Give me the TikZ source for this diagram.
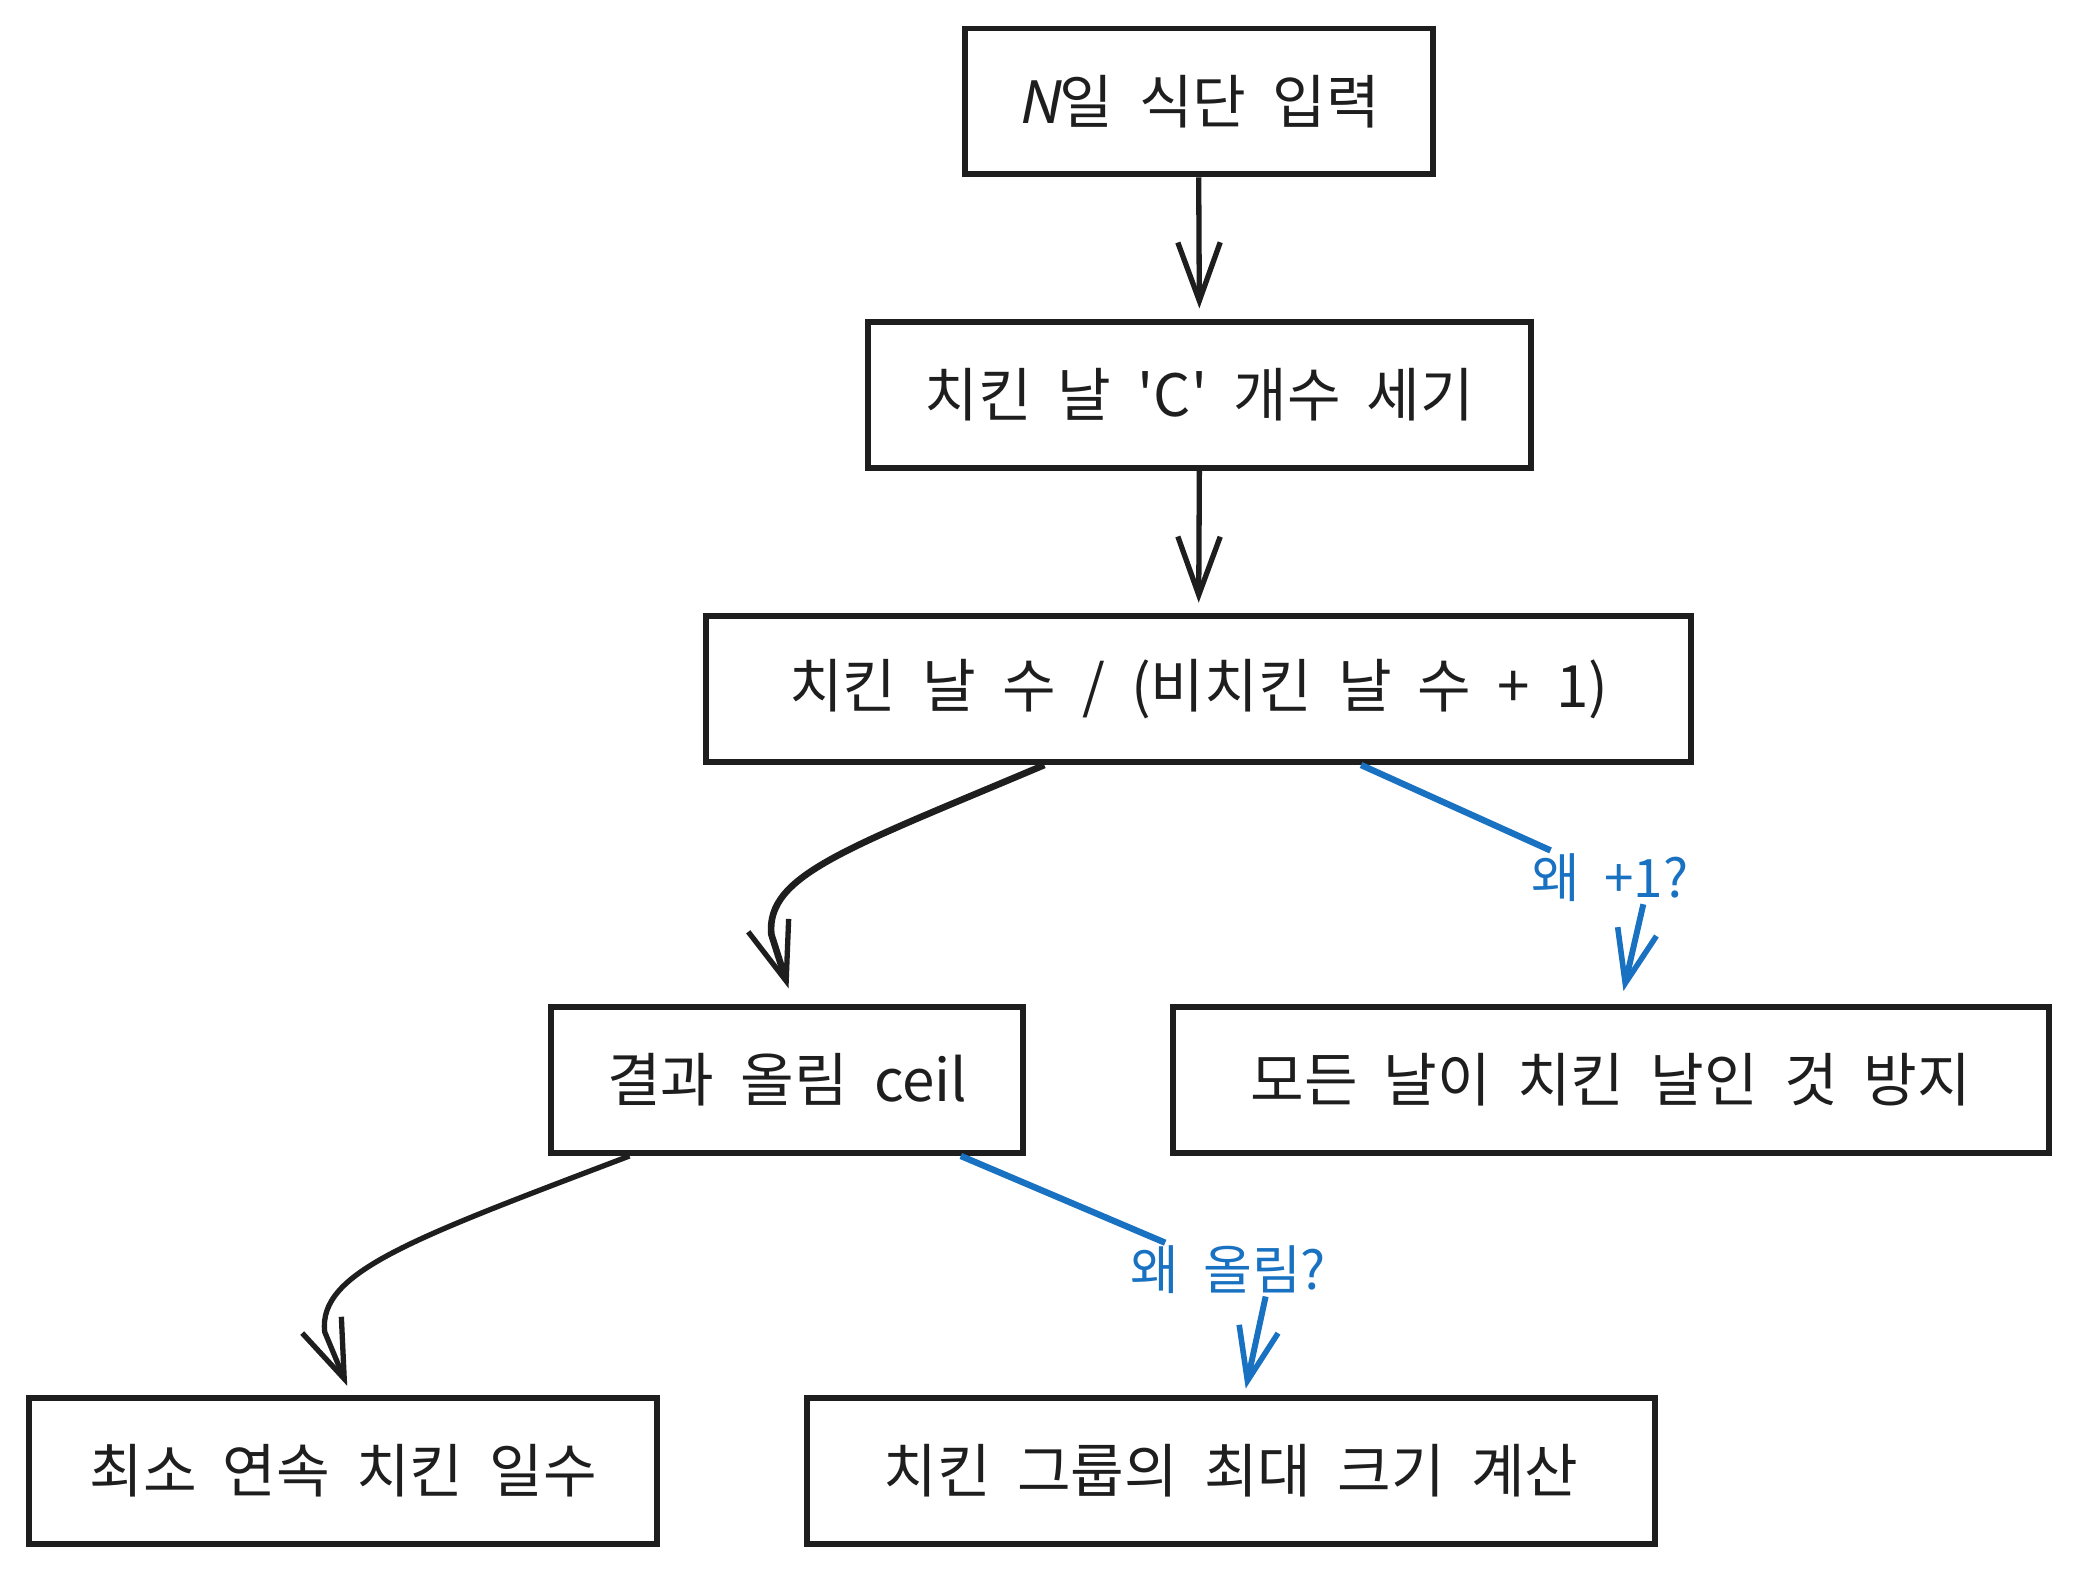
\documentclass[tikz,border=0pt]{standalone}
\usepackage{fontspec}
\setmainfont{Noto Sans CJK KR}[Ligatures=TeXOff]
\newfontfamily\slantfont{Noto Sans CJK KR}[FakeSlant=0.2,Ligatures=TeXOff]
\usetikzlibrary{arrows.meta}
\definecolor{ink}{HTML}{1E1E1E}
\definecolor{bluea}{HTML}{1971C2}
\tikzset{
  box/.style={draw=ink, line width=4.5pt, fill=white, minimum height=110pt, inner sep=0pt, font=\fontsize{44}{50}\selectfont, text=ink},
  conn/.style={draw=ink, line width=4pt, -{Straight Barb[length=44pt,width=32pt,line width=4pt]}},
  bconn/.style={draw=bluea, line width=4.8pt},
  barr/.style={draw=bluea, line width=4.5pt, -{Straight Barb[length=40pt,width=30pt,line width=4.2pt]}},
  blabel/.style={text=bluea, font=\fontsize{40}{46}\selectfont, inner sep=2pt}
}
\begin{document}
\begin{tikzpicture}[x=1pt,y=-1pt]
\useasboundingbox[fill=white] (0,0) rectangle (1568,1187);
\node[box, minimum width=353pt] (b1) at (904.5,76.5) {{\slantfont N}일\ \ 식단\ \ 입력};
\node[box, minimum width=500pt] (b2) at (905,298) {치킨\ \ 날\ \ 'C'\ \ 개수\ \ 세기};
\node[box, minimum width=743pt] (b3) at (904.5,520) {치킨\ \ 날\ \ 수\ \ /\ \ (비치킨\ \ 날\ \ 수\ \ +\ \ 1)};
\node[box, minimum width=356pt] (b4) at (594,815) {결과\ \ 올림\ \ ceil};
\node[box, minimum width=661pt] (b5) at (1215.5,815) {모든\ \ 날이\ \ 치킨\ \ 날인\ \ 것\ \ 방지};
\node[box, minimum width=474pt] (b6) at (259,1110) {최소\ \ 연속\ \ 치킨\ \ 일수};
\node[box, minimum width=640pt] (b7) at (929,1110) {치킨\ \ 그룹의\ \ 최대\ \ 크기\ \ 계산};
\node[blabel] (l1) at (1215,662) {왜\ \ +1?};
\node[blabel] (l2) at (927,958) {왜\ \ 올림?};
\coordinate (s3) at ([xshift=-116.5pt]b3.south);
\coordinate (e4) at ([xshift=1pt,yshift=12pt]b4.north);
\coordinate (s5) at ([xshift=-119pt]b4.south);
\coordinate (e6) at ([xshift=3pt,yshift=7pt]b6.north);
\coordinate (t3) at ([xshift=122.5pt]b3.south);
\coordinate (e5) at ([xshift=9.5pt,yshift=10pt]b5.north);
\coordinate (t4) at ([xshift=131pt]b4.south);
\coordinate (e7) at ([xshift=11pt,yshift=5pt]b7.north);
\draw[conn] (b1.south) -- ([yshift=8pt]b2.north);
\draw[conn] (b2.south) -- ([yshift=8pt]b3.north);
\draw[conn, line width=5pt] (s3) .. controls (640,640) and (578,660) .. (582,705) -- (e4);
\draw[conn] (s5) .. controls (310,935) and (240,960) .. (245,1005) -- (e6);
\draw[bconn] (t3) -- (l1);
\draw[barr] ([xshift=25pt]l1.south) -- (e5);
\draw[bconn] (t4) -- (l2);
\draw[barr] ([xshift=28pt]l2.south) -- (e7);
\end{tikzpicture}
\end{document}
